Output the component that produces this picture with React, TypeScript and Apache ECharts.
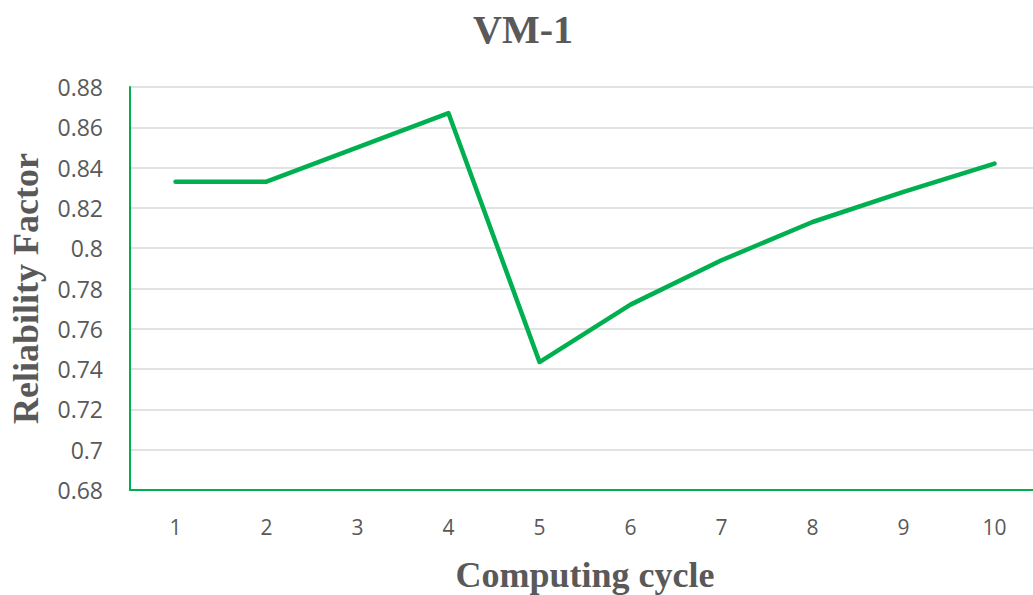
import React, { useEffect, useRef } from "react";
import * as echarts from "echarts";

const categories = ["1", "2", "3", "4", "5", "6", "7", "8", "9", "10"];
const reliability = [0.833, 0.833, 0.85, 0.867, 0.7435, 0.772, 0.794, 0.813, 0.828, 0.842];
const yMin = 0.68;
const yMax = 0.88;
const yStep = 0.02;

export default function App() {
  const ref = useRef<HTMLDivElement>(null);
  useEffect(() => {
    document.body.style.margin = "0";
    document.body.style.overflow = "hidden";
    const chart = echarts.init(ref.current!, undefined, { renderer: "svg" });
    chart.setOption({
      animation: false,
      backgroundColor: "#ffffff",
      title: {
        text: "VM-1",
        left: 518,
        textAlign: "center",
        top: 4,
        textStyle: {
          fontFamily: "Liberation Serif",
          fontWeight: "bold",
          fontSize: 40,
          color: "#595959",
        },
      },
      grid: {
        left: 130,
        top: 87,
        right: 5,
        bottom: 105,
        containLabel: false,
        outerBoundsMode: "none",
      },
      xAxis: {
        type: "category",
        data: categories,
        boundaryGap: true,
        name: "Computing cycle",
        nameLocation: "middle",
        nameGap: 67,
        nameTextStyle: {
          fontFamily: "Liberation Serif",
          fontWeight: "bold",
          fontSize: 36,
          color: "#595959",
        },
        axisLine: { show: true, lineStyle: { color: "#00B050", width: 2 } },
        axisTick: { show: false },
        axisLabel: {
          fontFamily: "Open Sans",
          fontSize: 21,
          color: "#595959",
          margin: 26,
        },
      },
      yAxis: {
        type: "value",
        min: yMin,
        max: yMax,
        interval: yStep,
        name: "Reliability Factor",
        nameLocation: "middle",
        nameGap: 86,
        nameRotate: 90,
        nameTextStyle: {
          fontFamily: "Liberation Serif",
          fontWeight: "bold",
          fontSize: 36,
          color: "#595959",
        },
        axisLine: { show: true, lineStyle: { color: "#00B050", width: 2 } },
        axisTick: { show: false },
        splitLine: { show: true, lineStyle: { color: "#D9D9D9", width: 1.5 } },
        axisLabel: {
          fontFamily: "Open Sans",
          fontSize: 23,
          color: "#595959",
          margin: 27,
          formatter: (v: number) => String(Math.round(v * 100) / 100),
        },
      },
      series: [
        {
          type: "line",
          data: reliability,
          symbol: "none",
          lineStyle: { color: "#00B050", width: 4.5, cap: "round", join: "round" },
        },
      ],
    });
    return () => chart.dispose();
  }, []);
  return (
    <div
      ref={ref}
      style={{ position: "fixed", left: 0, top: 0, width: 1045, height: 595 }}
    />
  );
}
